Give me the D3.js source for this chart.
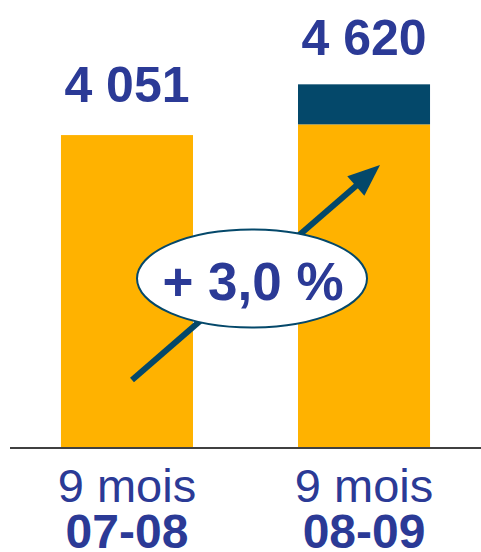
<!DOCTYPE html>
<html>
<head>
<meta charset="utf-8">
<script src="https://cdn.jsdelivr.net/npm/d3@7"></script>
<style>
  body { margin: 0; background: #fff; }
  svg { display: block; font-family: "Liberation Sans", Arial, sans-serif; }
</style>
</head>
<body>
<div id="container"></div>
<script>
const width = 481;
const height = 552;

// data
const categories = ["07-08", "08-09"];
const periodLabels = ["9 mois", "9 mois"];
const baseValues = [4051, 4190];   // orange part
const extraValues = [0, 520];      // dark top part
const totalLabels = ["4 051", "4 620"];
const growthLabel = "+ 3,0 %";

const orange = "#FFB200";
const teal = "#04486A";
const blue = "#2B3A96";

const rows = categories.map((c, i) => ({ cat: c, base: baseValues[i], extra: extraValues[i] }));

const svg = d3.select("#container").append("svg")
  .attr("width", width)
  .attr("height", height);

const x = d3.scaleBand()
  .domain(categories)
  .range([10, 481])
  .paddingInner(0.443)
  .paddingOuter(0.215);

const y = d3.scaleLinear()
  .domain([0, 5000])
  .range([447, 62]);

const stack = d3.stack().keys(["base", "extra"]);
const series = stack(rows);
const colors = { base: orange, extra: teal };

// bars
svg.selectAll("g.layer")
  .data(series)
  .join("g")
  .attr("class", "layer")
  .attr("fill", d => colors[d.key])
  .selectAll("rect")
  .data(d => d)
  .join("rect")
  .attr("x", d => x(d.data.cat))
  .attr("y", d => y(d[1]))
  .attr("width", x.bandwidth())
  .attr("height", d => y(d[0]) - y(d[1]));

// baseline
svg.append("line")
  .attr("x1", 10).attr("x2", 481)
  .attr("y1", y(0) + 1).attr("y2", y(0) + 1)
  .attr("stroke", "#000")
  .attr("stroke-width", 1.5);

// value labels above bars
svg.selectAll("text.total")
  .data(rows)
  .join("text")
  .attr("class", "total")
  .attr("x", d => x(d.cat) + x.bandwidth() / 2)
  .attr("y", (d, i) => y(d.base + d.extra) - (i === 0 ? 33 : 29))
  .attr("text-anchor", "middle")
  .attr("font-size", 50)
  .attr("font-weight", "bold")
  .attr("fill", blue)
  .text((d, i) => totalLabels[i]);

// category labels
const labels = svg.selectAll("g.cat")
  .data(rows)
  .join("g")
  .attr("class", "cat")
  .attr("transform", d => `translate(${x(d.cat) + x.bandwidth() / 2},0)`);

labels.append("text")
  .attr("y", 502)
  .attr("text-anchor", "middle")
  .attr("font-size", 47)
  .attr("fill", blue)
  .text((d, i) => periodLabels[i]);

labels.append("text")
  .attr("y", 548)
  .attr("text-anchor", "middle")
  .attr("font-size", 48)
  .attr("font-weight", "bold")
  .attr("fill", blue)
  .text(d => d.cat);

// growth arrow
const arrowStart = [132, 380];
const arrowEnd = [380, 165];
const ang = Math.atan2(arrowEnd[1] - arrowStart[1], arrowEnd[0] - arrowStart[0]);
const headLen = 32, headHalf = 13;
const baseX = arrowEnd[0] - headLen * Math.cos(ang);
const baseY = arrowEnd[1] - headLen * Math.sin(ang);

svg.append("line")
  .attr("x1", arrowStart[0]).attr("y1", arrowStart[1])
  .attr("x2", baseX + 2 * Math.cos(ang)).attr("y2", baseY + 2 * Math.sin(ang))
  .attr("stroke", teal)
  .attr("stroke-width", 6);

svg.append("path")
  .attr("d", d3.line()([
    arrowEnd,
    [baseX + headHalf * Math.sin(ang), baseY - headHalf * Math.cos(ang)],
    [baseX - headHalf * Math.sin(ang), baseY + headHalf * Math.cos(ang)]
  ]) + "Z")
  .attr("fill", teal);

// growth ellipse
svg.append("ellipse")
  .attr("cx", 252).attr("cy", 278.5)
  .attr("rx", 115).attr("ry", 49)
  .attr("fill", "#fff")
  .attr("stroke", teal)
  .attr("stroke-width", 2);

svg.append("text")
  .attr("x", 253).attr("y", 300)
  .attr("text-anchor", "middle")
  .attr("font-size", 53)
  .attr("font-weight", "bold")
  .attr("fill", blue)
  .text(growthLabel);
</script>
</body>
</html>
